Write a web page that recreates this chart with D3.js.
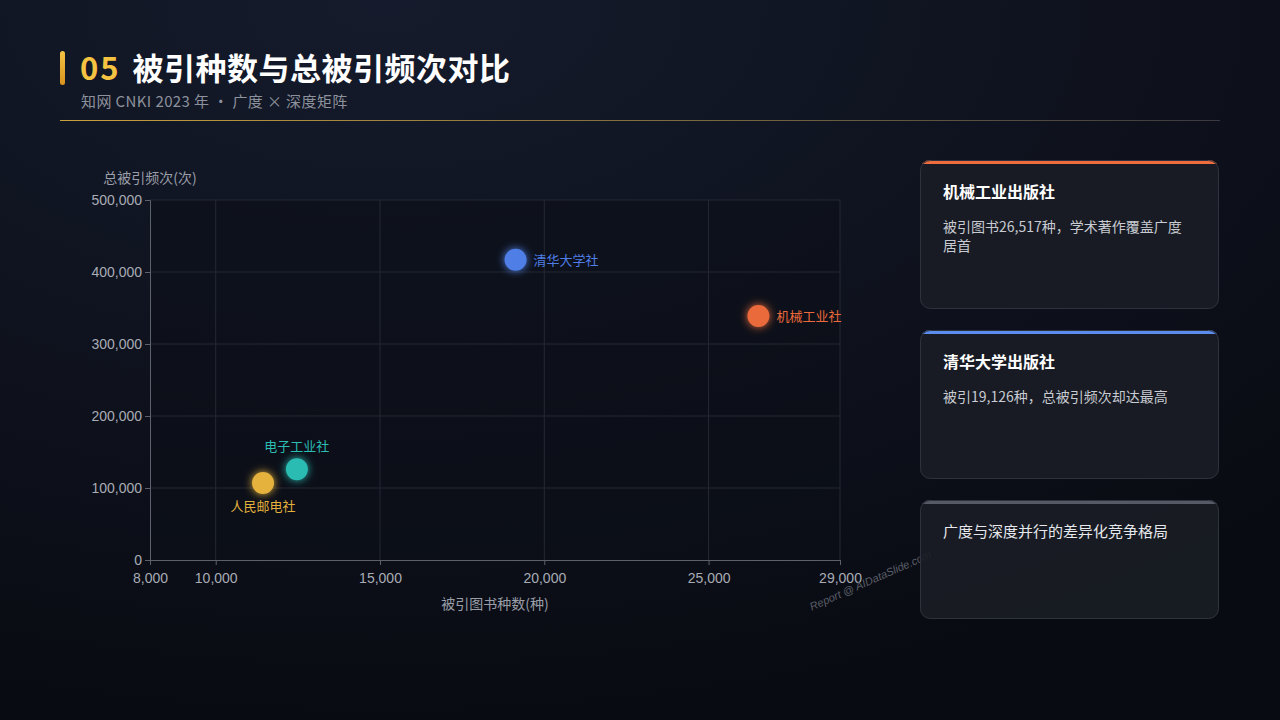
<!DOCTYPE html>
<html><head><meta charset="utf-8">
<script src="https://cdn.jsdelivr.net/npm/d3@7"></script>
<style>
body{margin:0;background:#0b0e17;font-family:"Noto Sans CJK SC","Noto Sans",sans-serif;}
svg{display:block}
</style></head>
<body><svg id="c" width="1280" height="720"></svg>
<script>
var publishers = ['清华大学社', '机械工业社', '电子工业社', '人民邮电社'];
var bookCounts = [19126, 26517, 12470, 11440];
var citations = [417000, 339000, 126000, 107000];
var colors = ['#4f7fe6', '#ea6a3b', '#2bbcb2', '#e4b23c'];
var xTicks = [8000, 10000, 15000, 20000, 25000, 29000];
var yTicks = [0, 100000, 200000, 300000, 400000, 500000];
var cardTitles = ['机械工业出版社', '清华大学出版社', ''];
var cardTexts = ['被引图书26,517种，学术著作覆盖广度居首', '被引19,126种，总被引频次却达最高', '广度与深度并行的差异化竞争格局'];
var cardColors = ['#ef6c3e', '#5b8def', '#555a66'];

var svg = d3.select('#c');
var defs = svg.append('defs');
var bg = defs.append('radialGradient').attr('id', 'bg').attr('cx', '30%').attr('cy', '0%').attr('r', '100%');
bg.append('stop').attr('offset', '0%').attr('stop-color', '#151b2c');
bg.append('stop').attr('offset', '100%').attr('stop-color', '#090b12');
svg.append('rect').attr('width', 1280).attr('height', 720).attr('fill', 'url(#bg)');
var bar = defs.append('linearGradient').attr('id', 'bar').attr('x1', 0).attr('y1', 0).attr('x2', 0).attr('y2', 1);
bar.append('stop').attr('offset', '0%').attr('stop-color', '#f6c443');
bar.append('stop').attr('offset', '100%').attr('stop-color', '#d8931e');
var line = defs.append('linearGradient').attr('id', 'line');
line.append('stop').attr('offset', '0%').attr('stop-color', '#c9a03c');
line.append('stop').attr('offset', '100%').attr('stop-color', '#3a3a40');
var glow = defs.append('filter').attr('id', 'glow').attr('x', '-100%').attr('y', '-100%').attr('width', '300%').attr('height', '300%');
glow.append('feGaussianBlur').attr('stdDeviation', 4).attr('result', 'b');
var fm = glow.append('feMerge'); fm.append('feMergeNode').attr('in', 'b'); fm.append('feMergeNode').attr('in', 'SourceGraphic');

// header
svg.append('rect').attr('x', 60).attr('y', 51).attr('width', 5).attr('height', 34).attr('rx', 2.5).attr('fill', 'url(#bar)');
var t = svg.append('text').attr('x', 80).attr('y', 80).attr('font-size', 31).attr('font-weight', 700);
t.append('tspan').attr('fill', '#f5c242').attr('letter-spacing', 2).text('05');
t.append('tspan').attr('fill', '#fff').attr('dx', 12).attr('letter-spacing', 0.5).text('被引种数与总被引频次对比');
svg.append('text').attr('x', 81).attr('y', 107).attr('font-size', 15).attr('fill', '#8d919c').attr('letter-spacing', 0.4).text('知网 CNKI 2023 年 · 广度 × 深度矩阵');
svg.append('rect').attr('x', 60).attr('y', 120).attr('width', 1160).attr('height', 1).attr('fill', 'url(#line)');

// chart
var x = d3.scaleLinear().domain([8000, 29000]).range([150, 840]);
var y = d3.scaleLinear().domain([0, 500000]).range([560, 200]);
var g = svg.append('g').attr('font-family', 'Liberation Sans, Arial, sans-serif');
g.append('rect').attr('x', 150).attr('y', 200).attr('width', 690).attr('height', 360).attr('fill', '#0c0f18').attr('opacity', 0.6);
g.selectAll('.gx').data(xTicks.slice(1)).enter().append('line')
  .attr('x1', x).attr('x2', x).attr('y1', 200).attr('y2', 560).attr('stroke', '#252932');
g.selectAll('.gy').data(yTicks.slice(1)).enter().append('line')
  .attr('x1', 150).attr('x2', 840).attr('y1', y).attr('y2', y).attr('stroke', '#252932');

var xa = g.append('g').attr('transform', 'translate(0,560)')
  .call(d3.axisBottom(x).tickValues(xTicks).tickFormat(d3.format(',')).tickSize(5));
var ya = g.append('g').attr('transform', 'translate(150,0)')
  .call(d3.axisLeft(y).tickValues(yTicks).tickFormat(d3.format(',')).tickSize(5));
[xa, ya].forEach(function (a) {
  a.selectAll('path,line').attr('stroke', '#5d616b');
  a.selectAll('text').attr('fill', '#a8acb5').attr('font-size', 14);
});
xa.selectAll('text').attr('dy', '1.1em');

svg.append('text').attr('x', 495).attr('y', 609).attr('text-anchor', 'middle').attr('font-size', 14).attr('fill', '#9a9ea8').text('被引图书种数(种)');
svg.append('text').attr('x', 150).attr('y', 183).attr('text-anchor', 'middle').attr('font-size', 14).attr('fill', '#9a9ea8').text('总被引频次(次)');

var pts = svg.selectAll('.pt').data(publishers).enter().append('g');
pts.append('circle').attr('cx', function (d, i) { return x(bookCounts[i]); })
  .attr('cy', function (d, i) { return y(citations[i]); })
  .attr('r', 11).attr('fill', function (d, i) { return colors[i]; }).attr('filter', 'url(#glow)');
var lblOff = [[18, 5, 'start'], [18, 5, 'start'], [0, -18, 'middle'], [0, 28, 'middle']];
pts.append('text').attr('x', function (d, i) { return x(bookCounts[i]) + lblOff[i][0]; })
  .attr('y', function (d, i) { return y(citations[i]) + lblOff[i][1]; })
  .attr('text-anchor', function (d, i) { return lblOff[i][2]; })
  .attr('font-size', 13).attr('fill', function (d, i) { return colors[i]; }).text(function (d) { return d; });

svg.append('text').attr('transform', 'translate(872,584) rotate(-24)').attr('text-anchor', 'middle')
  .attr('font-size', 11).attr('font-style', 'italic').attr('fill', '#5a5e68').attr('font-family', 'Liberation Sans, sans-serif').text('Report @ AIDataSlide.com');

// cards
var cardY = [160, 330, 500], cardH = [149, 149, 119];
cardTitles.forEach(function (title, i) {
  var c = svg.append('g').attr('transform', 'translate(920,' + cardY[i] + ')');
  c.append('clipPath').attr('id', 'cp' + i).append('rect').attr('width', 299).attr('height', cardH[i]).attr('rx', 10);
  var cg = c.append('g').attr('clip-path', 'url(#cp' + i + ')');
  cg.append('rect').attr('width', 299).attr('height', cardH[i]).attr('fill', '#1a1d25').attr('opacity', 0.9);
  cg.append('rect').attr('width', 299).attr('height', 4).attr('fill', cardColors[i]);
  c.append('rect').attr('x', 0.5).attr('y', 0.5).attr('width', 298).attr('height', cardH[i] - 1).attr('rx', 10)
    .attr('fill', 'none').attr('stroke', '#2e323c');
  if (title) {
    c.append('text').attr('x', 23).attr('y', 38).attr('font-size', 16).attr('font-weight', 700).attr('fill', '#fff').text(title);
  }
  var txt = cardTexts[i];
  var lines = title ? (txt.length > 20 ? [txt.slice(0, 20), txt.slice(20)] : [txt]) : [txt];
  lines.forEach(function (l, k) {
    c.append('text').attr('x', 23).attr('y', (title ? 72 : 37) + k * 19).attr('font-size', title ? 14 : 15)
      .attr('fill', title ? '#c8cbd2' : '#e6e8ec').text(l);
  });
});
</script></body></html>
